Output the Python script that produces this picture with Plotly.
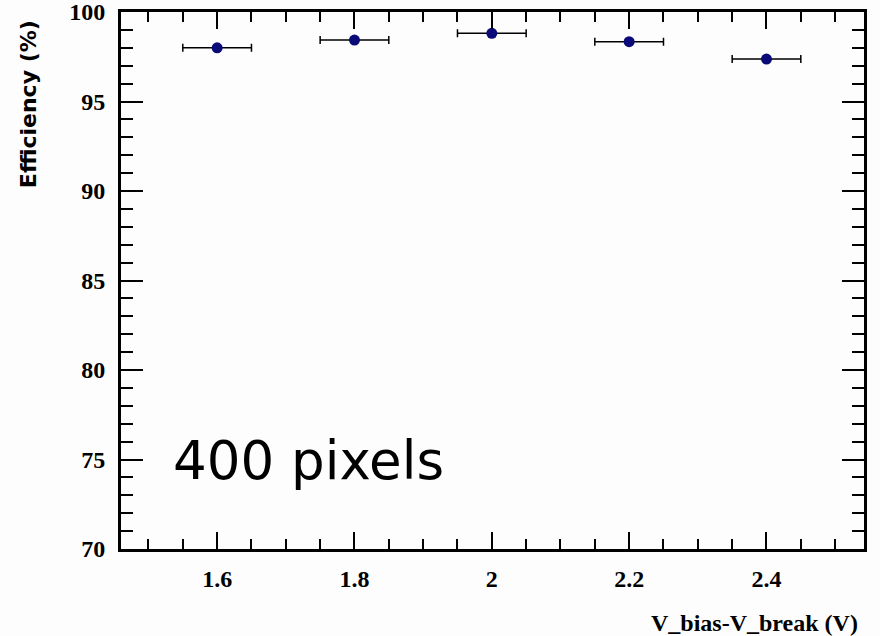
import plotly.graph_objects as go

# Efficiency vs over-voltage measurement
overvoltage = [1.6, 1.8, 2.0, 2.2, 2.4]
efficiency = [98.0, 98.43, 98.81, 98.34, 97.37]
x_halfwidth = [0.05, 0.05, 0.05, 0.05, 0.05]

x_range = [1.46, 2.542]
y_range = [70, 100]

serif_bold = dict(family="Liberation Serif", size=24, color="black", weight="bold")

fig = go.Figure()
fig.add_trace(go.Scatter(
    x=overvoltage,
    y=efficiency,
    mode="markers",
    marker=dict(color="#0a0a78", size=11, symbol="circle"),
    error_x=dict(type="data", array=x_halfwidth, visible=True,
                 color="black", thickness=1.5, width=4),
    showlegend=False,
))

fig.update_xaxes(
    range=x_range, automargin=False,
    showgrid=False, zeroline=False,
    showline=True, linecolor="black", linewidth=3, mirror="allticks",
    ticks="inside", ticklen=17, tickwidth=2, tickcolor="black",
    tick0=1.6, dtick=0.2, tickformat="~g",
    minor=dict(ticks="inside", ticklen=10, tickwidth=2, tickcolor="black", dtick=0.05),
    tickfont=serif_bold,
    ticklabelstandoff=6,
    ticklabeloverflow="allow",
)
fig.update_yaxes(
    range=y_range, automargin=False,
    showgrid=False, zeroline=False,
    showline=True, linecolor="black", linewidth=3, mirror="allticks",
    ticks="inside", ticklen=22, tickwidth=2, tickcolor="black",
    tick0=70, dtick=5,
    minor=dict(ticks="inside", ticklen=12, tickwidth=2, tickcolor="black", dtick=1),
    tickfont=serif_bold,
    ticklabelstandoff=8,
    ticklabeloverflow="allow",
)

fig.add_annotation(
    text="Efficiency (%)", textangle=-90,
    xref="paper", yref="paper", x=-0.125, y=1 - (104 - 12) / 537,
    xanchor="center", yanchor="middle", showarrow=False,
    font=dict(family="DejaVu Sans", size=22, color="black", weight="bold"),
)
fig.add_annotation(
    text="V_bias-V_break (V)",
    xref="paper", yref="paper", x=0.9946, y=-0.138,
    xanchor="right", yanchor="middle", showarrow=False,
    font=dict(family="Liberation Serif", size=24, color="black", weight="bold"),
)
fig.add_annotation(
    text="400 pixels",
    xref="paper", yref="paper", x=(171 - 121) / 743, y=(549 - 460) / 537,
    xanchor="left", yanchor="middle", showarrow=False,
    font=dict(family="DejaVu Sans", size=53, color="black"),
)

fig.update_layout(
    width=880, height=636,
    margin=dict(l=121, r=16, t=12, b=87),
    paper_bgcolor="#fdfdfd", plot_bgcolor="#fdfdfd",
)

fig.write_html("out.html")
